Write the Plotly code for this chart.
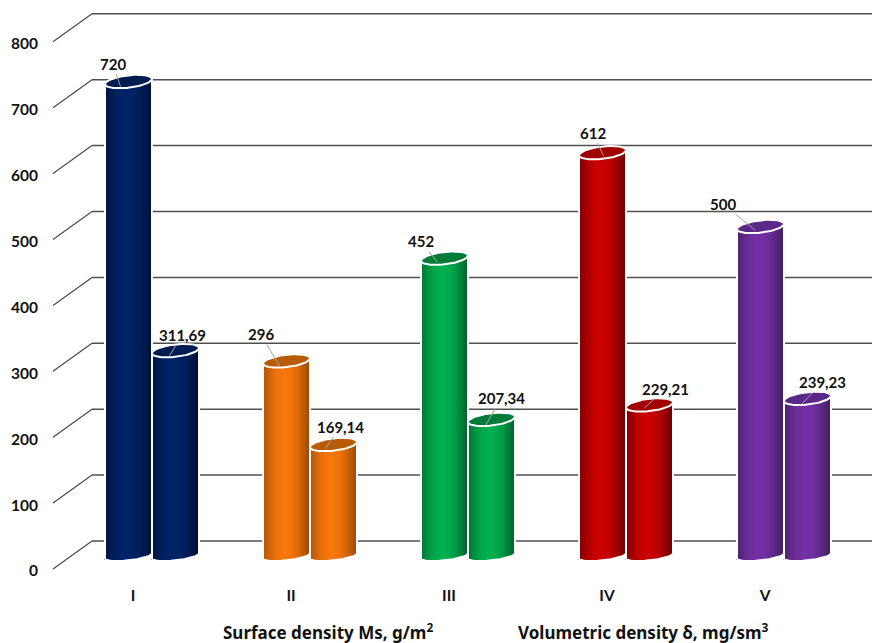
import numpy as np
import plotly.graph_objects as go

categories = ["I", "II", "III", "IV", "V"]
surface_density = [720, 296, 452, 612, 500]
volumetric_density = [311.69, 169.14, 207.34, 229.21, 239.23]
surface_labels = ["720", "296", "452", "612", "500"]
volumetric_labels = ["311,69", "169,14", "207,34", "229,21", "239,23"]
axis_ticks = [0, 100, 200, 300, 400, 500, 600, 700, 800]

centre_colors = ["#002468", "#f7780c", "#00b050", "#cc0000", "#7430a6"]
edge_colors = ["#001238", "#a04c06", "#00652e", "#6e0000", "#44205f"]
top_colors = ["#001c50", "#b85a06", "#007c38", "#a00000", "#5a2888"]

# label offsets from the cylinder top centre, pixels: (text dx, text dy, leader end dx, leader end dy)
surface_offsets = [(-16, -18, -8, 5), (-26, -27, -7, 5), (-24, -17, -7, 4), (-10, -20, 1, 3), (-38, -23, -5, 4)]
volumetric_offsets = [(7, -16, -6, 5), (7, -18, -8, 4), (10, -21, -6, 6), (16, -16, -5, 3), (15, -16, -6, 6)]

W, H = 872, 643
ML, MB = 39, 65
PLOT_W, PLOT_H = W - ML, H - MB
PX_PER_UNIT = 0.659
WALL_ZERO = 556      # pixel of value 0 at bar base
FRONT_ZERO = 569     # pixel of the front end of the zero diagonal
LABEL_ZERO = 571     # pixel of axis label 0
GROUP_X0, GROUP_STEP, BAR_R = 152, 158, 23.5
GRID_ZERO, GRID_LEFT, DIAG_LEFT = 541, 92, 53


def px_x(p):
    return (p - GROUP_X0) / GROUP_STEP


def paper_x(p):
    return (p - ML) / PLOT_W


def y_range(zero):
    return [(zero - PLOT_H) / PX_PER_UNIT, zero / PX_PER_UNIT]


grid_shift = (WALL_ZERO - GRID_ZERO) / PX_PER_UNIT
front_depth = (FRONT_ZERO - GRID_ZERO) / PX_PER_UNIT
half_w = BAR_R / GROUP_STEP
top_b = 6.2 / PX_PER_UNIT
bot_b = 4.4 / PX_PER_UNIT
tilt = 2.6 / PX_PER_UNIT

fig = go.Figure()
shapes = []
for v in axis_ticks:
    yv = v + grid_shift
    shapes.append(dict(type="line", xref="paper", yref="y", layer="below",
                       x0=paper_x(GRID_LEFT), x1=1, y0=yv, y1=yv,
                       line=dict(color="#505050", width=1.5)))
    shapes.append(dict(type="line", xref="paper", yref="y", layer="below",
                       x0=paper_x(DIAG_LEFT), x1=paper_x(GRID_LEFT), y0=yv - front_depth, y1=yv,
                       line=dict(color="#4a4a4a", width=1.2)))

N = 30
t = (np.arange(N) + 0.5) / N * 2 - 1
theta = np.linspace(0, 2 * np.pi, 73)
annotations = []


def mix(c1, c2, a):
    r1 = [int(c1[i:i + 2], 16) for i in (1, 3, 5)]
    r2 = [int(c2[i:i + 2], 16) for i in (1, 3, 5)]
    return "rgb(%d,%d,%d)" % tuple(r1[k] + (r2[k] - r1[k]) * a for k in range(3))


def add_cylinder(i, side, value, text, offs):
    cx = i + side * half_w
    xs = cx + t * half_w
    front_top = value + tilt * t - top_b * np.sqrt(1 - t ** 2)
    base = tilt * t - bot_b * np.sqrt(1 - t ** 2)
    cols = [mix(centre_colors[i], edge_colors[i], min(1, abs(k + 0.05) ** 1.9)) for k in t]
    fig.add_trace(go.Bar(x=xs, y=front_top - base, base=base, width=half_w * 2 / N * 1.25,
                         marker=dict(color=cols, line=dict(width=0)),
                         hoverinfo="skip", showlegend=False))
    tt = np.linspace(-1, 1, 41)
    ox = cx + tt * half_w
    oy = tilt * tt - bot_b * np.sqrt(1 - tt ** 2)
    fig.add_trace(go.Scatter(x=np.r_[cx - half_w, ox, cx + half_w],
                             y=np.r_[value - tilt, oy, value + tilt],
                             mode="lines", line=dict(color="white", width=2),
                             hoverinfo="skip", showlegend=False))
    fig.add_trace(go.Scatter(x=cx + half_w * np.cos(theta),
                             y=value + top_b * np.sin(theta) + tilt * np.cos(theta),
                             mode="lines", fill="toself", fillcolor=top_colors[i],
                             line=dict(color="white", width=2),
                             hoverinfo="skip", showlegend=False))
    tdx, tdy, edx, edy = offs
    annotations.append(dict(x=cx + edx / GROUP_STEP, y=value - edy / PX_PER_UNIT,
                            xref="x", yref="y", axref="pixel", ayref="pixel",
                            ax=tdx - edx, ay=tdy - edy, text=text, showarrow=True,
                            arrowhead=0, arrowwidth=1, arrowcolor="#a6a6a6",
                            font=dict(family="Lato", size=15, color="#111111", weight="bold")))


for i in range(len(categories)):
    add_cylinder(i, -1, surface_density[i], surface_labels[i], surface_offsets[i])
for i in range(len(categories)):
    add_cylinder(i, 1, volumetric_density[i], volumetric_labels[i], volumetric_offsets[i])

# carries the front axis with its value labels
fig.add_trace(go.Scatter(x=[0], y=[0], yaxis="y2", mode="markers", opacity=0,
                         hoverinfo="skip", showlegend=False))

legend_y = (H - 631 - MB) / PLOT_H
for p, txt in [(221, "Surface density Ms, g/m<sup>2</sup>"),
               (516, "Volumetric density δ, mg/sm<sup>3</sup>")]:
    annotations.append(dict(x=paper_x(p), y=legend_y, xref="paper", yref="paper", xanchor="left",
                            yanchor="middle", text=txt, showarrow=False,
                            font=dict(family="Noto Sans", size=17, color="#111111", weight="bold")))

tick_font = dict(family="Lato", size=15.5, color="#111111", weight="bold")
fig.update_layout(
    width=W, height=H, margin=dict(l=ML, r=0, t=0, b=MB, pad=0),
    paper_bgcolor="white", plot_bgcolor="white", showlegend=False, barmode="overlay",
    xaxis=dict(range=[px_x(ML), px_x(W)], showgrid=False, zeroline=False, showline=False,
               tickmode="array", tickvals=[k - 19 / GROUP_STEP for k in range(len(categories))],
               ticktext=categories, tickfont=tick_font, ticks="outside", ticklen=3,
               tickcolor="rgba(0,0,0,0)"),
    yaxis=dict(range=y_range(WALL_ZERO), showgrid=False, zeroline=False, showline=False,
               showticklabels=False, ticks=""),
    yaxis2=dict(range=y_range(LABEL_ZERO), overlaying="y", side="left", showgrid=False,
                zeroline=False, showline=False, tickmode="array", tickvals=axis_ticks,
                tickfont=tick_font, ticks=""),
    shapes=shapes, annotations=annotations,
)
fig.write_html("out.html", post_script="document.body.style.margin='0';",
               config={"displayModeBar": False})
